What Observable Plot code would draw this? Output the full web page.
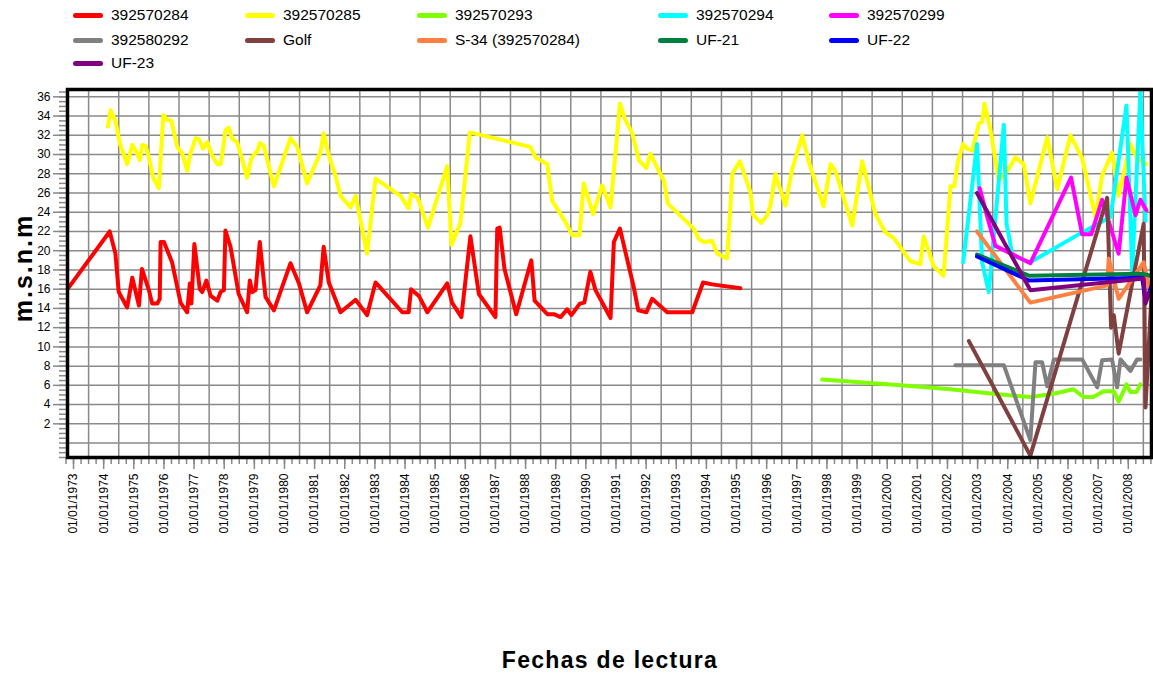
<!DOCTYPE html>
<html>
<head>
<meta charset="utf-8">
<script src="https://cdn.jsdelivr.net/npm/d3@7"></script>
<script src="https://cdn.jsdelivr.net/npm/@observablehq/plot@0.6"></script>
<style>
  html, body { margin: 0; padding: 0; background: #fff; }
  #wrap { position: relative; width: 1153px; height: 673px; font-family: Arial, "Liberation Sans", sans-serif; overflow: hidden; }
  .lg { position: absolute; height: 20px; display: flex; align-items: center; font-size: 15.5px; color: #000; white-space: nowrap; }
  .sw { width: 30px; height: 5px; border-radius: 3px; margin-right: 8px; }
  #chart { position: absolute; left: 0; top: 80px; }
  #ytitle { position: absolute; left: 23px; top: 268px; transform: translate(-50%, -50%) rotate(-90deg); font-weight: bold; font-size: 25px; letter-spacing: 2px; white-space: nowrap; }
  #xtitle { position: absolute; left: 610px; top: 660px; transform: translate(-50%, -50%); font-weight: bold; font-size: 23px; letter-spacing: 1.3px; white-space: nowrap; }
</style>
</head>
<body>
<div id="wrap">
  <div id="legend"></div>
  <div id="chart"></div>
  <div id="ytitle">m.s.n.m</div>
  <div id="xtitle">Fechas de lectura</div>
</div>
<script>
// ---- Data: [decimal year, level in m.s.n.m] ----
const s392570284 = [[1972.80,16.0],[1974.20,22.0],[1974.39,19.7],[1974.50,15.7],[1974.78,14.1],[1974.95,17.2],[1975.17,14.3],[1975.27,18.1],[1975.50,15.9],[1975.61,14.5],[1975.78,14.5],[1975.86,15.0],[1975.89,20.9],[1976.00,20.9],[1976.27,18.8],[1976.55,14.6],[1976.77,13.6],[1976.86,16.6],[1976.91,14.5],[1977.01,20.7],[1977.19,16.0],[1977.27,15.7],[1977.41,16.9],[1977.55,15.3],[1977.77,14.8],[1977.88,15.7],[1977.99,15.9],[1978.04,22.1],[1978.21,20.4],[1978.48,15.5],[1978.76,13.6],[1978.85,16.9],[1978.93,15.7],[1979.04,15.9],[1979.18,20.9],[1979.37,15.2],[1979.65,13.8],[1980.20,18.7],[1980.48,16.6],[1980.75,13.6],[1981.19,16.4],[1981.30,20.4],[1981.47,16.7],[1981.86,13.6],[1982.36,14.9],[1982.74,13.3],[1983.02,16.7],[1983.91,13.6],[1984.12,13.6],[1984.20,16.0],[1984.46,15.3],[1984.74,13.6],[1985.40,16.6],[1985.56,14.6],[1985.87,13.1],[1986.17,21.5],[1986.45,15.5],[1987.00,13.1],[1987.06,22.3],[1987.14,22.4],[1987.30,18.1],[1987.69,13.4],[1988.19,19.0],[1988.30,14.8],[1988.72,13.4],[1988.94,13.4],[1989.16,13.1],[1989.38,13.9],[1989.52,13.3],[1989.80,14.5],[1989.95,14.6],[1990.15,17.8],[1990.32,15.9],[1990.82,13.0],[1990.93,20.9],[1991.13,22.3],[1991.59,16.2],[1991.74,13.8],[1992.01,13.6],[1992.20,15.0],[1992.70,13.6],[1993.53,13.6],[1993.89,16.7],[1994.19,16.5],[1995.13,16.1]];
const s392570285 = [[1974.14,32.9],[1974.23,34.6],[1974.39,33.5],[1974.54,31.1],[1974.78,29.0],[1974.95,31.0],[1975.06,30.4],[1975.20,29.4],[1975.28,31.0],[1975.39,30.9],[1975.50,29.7],[1975.64,27.6],[1975.83,26.5],[1975.98,34.1],[1976.11,33.6],[1976.25,33.5],[1976.44,30.8],[1976.61,30.1],[1976.77,28.3],[1976.88,30.1],[1977.05,31.7],[1977.16,31.6],[1977.30,30.6],[1977.44,31.3],[1977.60,29.9],[1977.77,29.0],[1977.88,29.0],[1977.93,29.9],[1978.04,32.5],[1978.15,32.8],[1978.27,31.6],[1978.43,31.3],[1978.60,29.4],[1978.76,27.6],[1978.90,29.6],[1979.04,30.2],[1979.09,30.2],[1979.18,31.2],[1979.31,30.9],[1979.65,26.7],[1980.20,31.7],[1980.42,30.8],[1980.75,27.0],[1981.19,30.2],[1981.30,32.2],[1981.47,29.9],[1981.69,27.8],[1981.86,25.7],[1982.19,24.5],[1982.36,25.7],[1982.74,19.7],[1983.02,27.5],[1983.85,25.7],[1984.12,24.4],[1984.20,25.9],[1984.42,25.5],[1984.76,22.4],[1985.40,28.8],[1985.54,20.6],[1985.84,22.9],[1986.15,32.3],[1988.16,30.8],[1988.33,29.7],[1988.72,29.0],[1988.88,25.2],[1989.32,23.0],[1989.55,21.6],[1989.79,21.6],[1989.93,27.0],[1990.24,23.8],[1990.54,26.8],[1990.82,24.5],[1991.13,35.3],[1991.31,33.6],[1991.54,32.2],[1991.76,29.4],[1992.01,28.6],[1992.14,30.1],[1992.37,28.6],[1992.59,27.3],[1992.72,24.9],[1993.58,22.3],[1993.75,21.2],[1993.91,20.9],[1994.19,21.0],[1994.36,19.7],[1994.69,19.2],[1994.86,28.0],[1995.11,29.3],[1995.46,26.1],[1995.55,23.7],[1995.82,22.9],[1996.02,23.7],[1996.13,24.8],[1996.29,28.0],[1996.62,24.7],[1996.85,28.5],[1997.18,32.0],[1997.40,29.2],[1997.89,24.6],[1998.12,29.0],[1998.28,28.3],[1998.84,22.6],[1999.17,29.3],[1999.61,23.8],[1999.94,21.9],[2000.22,21.3],[2000.77,18.9],[2001.10,18.6],[2001.21,21.5],[2001.54,18.4],[2001.87,17.4],[2002.10,26.7],[2002.23,26.7],[2002.34,29.2],[2002.52,31.1],[2002.65,30.6],[2002.82,30.4],[2003.04,33.2],[2003.15,33.4],[2003.23,35.3],[2003.43,32.5],[2003.70,27.3],[2004.03,28.5],[2004.25,29.7],[2004.53,29.0],[2004.75,24.9],[2005.31,31.8],[2005.64,26.4],[2006.08,32.0],[2006.47,29.6],[2006.91,23.5],[2007.13,27.8],[2007.46,30.2],[2007.68,25.7],[2008.07,31.1],[2008.29,29.6],[2008.60,29.0]];
const s392570293 = [[1997.84,6.6],[2000.44,6.0],[2002.10,5.6],[2003.59,5.1],[2004.75,4.8],[2005.48,5.1],[2006.18,5.6],[2006.51,4.8],[2006.84,4.8],[2007.18,5.4],[2007.52,5.4],[2007.68,4.3],[2007.94,6.1],[2008.07,5.3],[2008.27,5.3],[2008.40,6.1]];
const s392570294 = [[2002.52,18.8],[2002.98,31.1],[2003.15,18.8],[2003.37,15.7],[2003.87,33.1],[2003.96,22.8],[2004.16,19.5],[2004.75,18.8],[2006.41,21.8],[2007.41,23.5],[2007.94,35.1],[2008.13,17.8],[2008.40,36.5],[2008.57,23.1]];
const s392570299 = [[2003.07,26.5],[2003.26,24.2],[2003.59,20.5],[2004.75,18.7],[2006.10,27.6],[2006.47,21.7],[2006.77,21.7],[2007.13,25.3],[2007.68,19.7],[2007.94,27.6],[2008.24,23.7],[2008.40,25.3],[2008.60,24.2]];
const s392580292 = [[2002.26,8.1],[2003.87,8.1],[2004.75,0.3],[2004.92,8.4],[2005.14,8.4],[2005.31,5.9],[2005.53,8.7],[2006.47,8.7],[2006.97,5.8],[2007.13,8.6],[2007.46,8.7],[2007.63,5.8],[2007.74,8.7],[2008.07,7.5],[2008.29,8.7],[2008.40,8.7]];
const sGolf = [[2002.71,10.6],[2004.75,-1.3],[2007.30,25.5],[2007.43,12.0],[2007.52,13.3],[2007.68,9.3],[2008.51,22.8],[2008.57,3.7],[2008.80,17.2]];
const sS34 = [[2002.98,22.0],[2004.75,14.6],[2007.30,16.4],[2007.35,19.2],[2007.68,15.0],[2008.51,18.8],[2008.68,16.2]];
const sUF21 = [[2002.98,19.6],[2004.70,17.4],[2008.46,17.6],[2008.73,17.4]];
const sUF22 = [[2002.98,19.4],[2004.70,16.9],[2008.46,17.2],[2008.57,14.8],[2008.80,16.5]];
const sUF23 = [[2002.98,26.0],[2004.75,15.9],[2008.51,17.1],[2008.57,14.5],[2008.71,15.7]];

const seriesNames  = ["392570284","392570285","392570293","392570294","392570299","392580292","Golf","S-34 (392570284)","UF-21","UF-22","UF-23"];
const seriesColors = ["#ff0000","#ffff00","#80ff00","#00ffff","#ff00ff","#808080","#804040","#ff8040","#008040","#0000ff","#800080"];
const seriesData   = [s392570284,s392570285,s392570293,s392570294,s392570299,s392580292,sGolf,sS34,sUF21,sUF22,sUF23];

const xYears = d3.range(1973, 2009);           // labelled ticks 01/01/YYYY
const yTickValues = d3.range(2, 37, 2);        // labelled y ticks

// ---- Legend ----
const legendPos = [[73,15],[245,15],[417,15],[658,15],[829,15],[73,40],[245,40],[417,40],[658,40],[829,40],[73,63]];
const legend = document.getElementById("legend");
seriesNames.forEach((n, i) => {
  const d = document.createElement("div");
  d.className = "lg";
  d.style.left = legendPos[i][0] + "px";
  d.style.top = (legendPos[i][1] - 10) + "px";
  d.innerHTML = `<div class="sw" style="background:${seriesColors[i]}"></div><span>${n}</span>`;
  legend.appendChild(d);
});

// ---- Chart ----
const gridStyle = {stroke: "#8a8a8a", strokeOpacity: 1, strokeWidth: 1.5};
const marks = [
  Plot.gridX(d3.range(1973.5, 2009, 1), gridStyle),
  Plot.gridY(d3.range(0, 37, 2), gridStyle),
  Plot.axisX(d3.range(1972.75, 2008.8, 0.25), {tickSize: 7, tickFormat: () => "", stroke: "#888", strokeWidth: 1.5}),
  Plot.axisX(xYears, {tickSize: 12, tickPadding: 4, tickRotate: -90, fontSize: 12, tickFormat: d => `01/01/${d}`, stroke: "#888", strokeWidth: 1.5, fill: "#000"}),
  Plot.axisY(d3.range(-1.5, 37, 0.5), {tickSize: 8, tickFormat: () => "", stroke: "#888", strokeWidth: 1.5}),
  Plot.axisY(yTickValues, {tickSize: 14, tickPadding: 3, fontSize: 12, stroke: "#888", strokeWidth: 1.5, fill: "#000"})
];
seriesData.forEach((data, i) => {
  marks.push(Plot.line(data, {x: d => d[0], y: d => d[1], stroke: seriesColors[i], strokeWidth: 4, clip: true, strokeLinejoin: "round", strokeLinecap: "round"}));
});
marks.push(Plot.frame({stroke: "#000", strokeWidth: 3.5}));

const chart = Plot.plot({
  width: 1153,
  height: 545,
  marginTop: 9,
  marginBottom: 168,
  marginLeft: 67,
  marginRight: 2,
  style: {fontFamily: "Arial, 'Liberation Sans', sans-serif", fontSize: "12px", background: "transparent", overflow: "visible"},
  x: {type: "linear", domain: [1972.80, 2008.77], label: null},
  y: {domain: [-1.5, 36.76], label: null},
  marks
});
document.getElementById("chart").appendChild(chart);
</script>
</body>
</html>
